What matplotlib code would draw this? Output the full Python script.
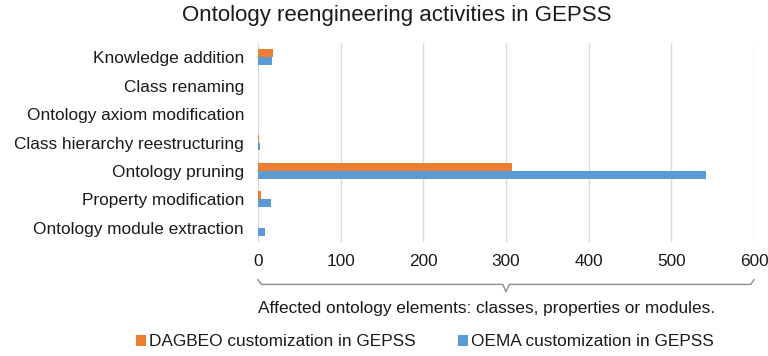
import matplotlib
matplotlib.use("Agg")
import matplotlib.pyplot as plt
import matplotlib.transforms as mtransforms
from matplotlib.patches import Patch
import numpy as np

plt.rcParams['font.family'] = ['Liberation Sans', 'DejaVu Sans']

categories = [
    "Knowledge addition",
    "Class renaming",
    "Ontology axiom modification",
    "Class hierarchy reestructuring",
    "Ontology pruning",
    "Property modification",
    "Ontology module extraction",
]
dagbeo = [18, 0, 0, 1, 307, 4, 0]
oema = [17, 0, 0, 3, 542, 16, 9]
xticks = [0, 100, 200, 300, 400, 500, 600]
series_names = ["DAGBEO customization in GEPSS", "OEMA customization in GEPSS"]

c_orange = "#ED7D31"
c_blue = "#5B9BD5"
txt = "#1a1a1a"
fs = 12.4

fig = plt.figure(figsize=(7.68, 3.56), dpi=100)
ax = fig.add_axes([258 / 768, 1 - 242 / 356, (754 - 258) / 768, 199 / 356])

y = np.arange(len(categories))
h = 0.28
ax.barh(y - h / 2, dagbeo, height=h, color=c_orange, zorder=3)
ax.barh(y + h / 2, oema, height=h, color=c_blue, zorder=3)

ax.set_ylim(len(categories) - 0.5, -0.5)
ax.set_xlim(0, 600)
ax.set_xticks(xticks)
ax.set_xticklabels([str(v) for v in xticks])
ax.set_yticks(y)
ax.set_yticklabels(categories)
ax.tick_params(axis='both', length=0, labelsize=fs, colors=txt)
ax.tick_params(axis='x', pad=9)
ax.tick_params(axis='y', pad=10)
ax.grid(axis='x', color='#d9d9d9', linewidth=1, zorder=0)
for s in ax.spines.values():
    s.set_visible(False)

# brace under the value axis
tr = mtransforms.blended_transform_factory(ax.transData, ax.transAxes)
bx = [0, 4, 296, 300, 304, 596, 600]
by = [-0.19, -0.213, -0.213, -0.25, -0.213, -0.213, -0.19]
ax.plot(bx, by, color='#8c8c8c', linewidth=1, transform=tr, clip_on=False)

fig.text(487 / 768, 1 - 308 / 356, "Affected ontology elements: classes, properties or modules.",
         ha='center', va='center', fontsize=fs, color=txt)

fig.text(397 / 768, 1 - 16 / 356, "Ontology reengineering activities in GEPSS",
         ha='center', va='center', fontsize=16, color=txt)

handles = [Patch(facecolor=c_orange, edgecolor='none'), Patch(facecolor=c_blue, edgecolor='none')]
fig.legend(handles, series_names, loc='center', bbox_to_anchor=(425 / 768, 1 - 342 / 356),
           ncol=2, frameon=False, handlelength=0.58, handleheight=0.58, handletextpad=0.17,
           columnspacing=2.5, fontsize=fs, labelcolor=txt, borderpad=0, borderaxespad=0)

fig.savefig("out.png", dpi=100)
